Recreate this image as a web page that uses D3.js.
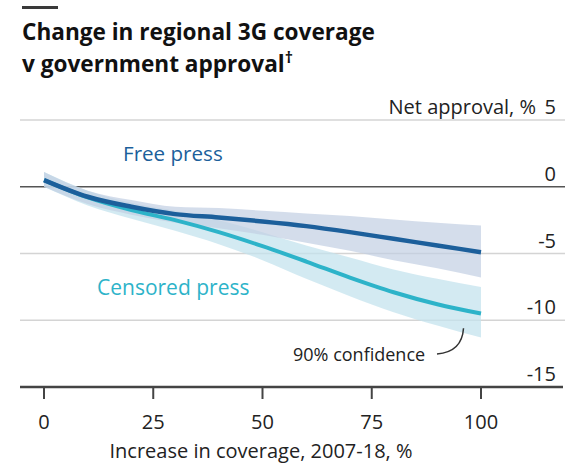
<!DOCTYPE html>
<html>
<head>
<meta charset="utf-8">
<script src="https://cdn.jsdelivr.net/npm/d3@7"></script>
<style>
  body { margin: 0; background: #fff; }
  text { font-family: "Open Sans", sans-serif; }
</style>
</head>
<body>
<div id="chart"></div>
<script>
// coverage increase, %
var coverage = [0, 10, 20, 30, 40, 50, 60, 70, 80, 90, 100];

// net approval, %
var freePress = [0.5, -0.75, -1.5, -2.05, -2.3, -2.6, -2.95, -3.4, -3.9, -4.4, -4.9];
var freeUpper = [1.1, -0.3, -1.0, -1.5, -1.6, -1.8, -2.0, -2.2, -2.45, -2.7, -2.9];
var freeLower = [0.0, -1.3, -2.1, -2.7, -3.1, -3.6, -4.2, -4.8, -5.5, -6.1, -6.8];

var censored = [0.5, -0.8, -1.75, -2.5, -3.4, -4.45, -5.6, -6.8, -7.9, -8.8, -9.5];
var censUpper = [1.1, -0.3, -1.2, -1.8, -2.5, -3.4, -4.4, -5.3, -6.2, -6.9, -7.5];
var censLower = [0.0, -1.4, -2.4, -3.3, -4.3, -5.5, -6.9, -8.2, -9.4, -10.4, -11.3];

var xTicks = [0, 25, 50, 75, 100];
var yTicks = [5, 0, -5, -10, -15];

var svg = d3.select("#chart")
    .append("svg")
    .attr("width", 578)
    .attr("height", 464);

var x = d3.scaleLinear().domain([0, 100]).range([44, 481]),
    y = d3.scaleLinear().domain([-15, 5]).range([387, 120]);

// title
svg.append("rect")
    .attr("x", 22).attr("y", 6)
    .attr("width", 36).attr("height", 3)
    .attr("fill", "#3a3a3a");

var title = svg.append("text")
    .attr("x", 22)
    .attr("y", 40)
    .style("font-weight", "bold")
    .style("font-size", "22.6px")
    .attr("fill", "#111");
title.append("tspan").text("Change in regional 3G coverage");
title.append("tspan").attr("x", 22).attr("dy", 32).text("v government approval");
title.append("tspan").attr("dy", -9).style("font-size", "16px").text("\u2020");

// gridlines
svg.append("g")
    .selectAll("line")
    .data(yTicks.filter(function (d) { return d !== -15; }))
    .enter().append("line")
    .attr("x1", 20).attr("x2", 565)
    .attr("y1", function (d) { return y(d); })
    .attr("y2", function (d) { return y(d); })
    .attr("stroke", function (d) { return d === 0 ? "#555" : "#d4d4d4"; })
    .attr("stroke-width", 1.6);

// y labels
svg.append("g")
    .selectAll("text")
    .data(yTicks)
    .enter().append("text")
    .attr("x", 556)
    .attr("y", function (d) { return y(d) - 6; })
    .attr("text-anchor", "end")
    .style("font-size", "20px")
    .attr("fill", "#222")
    .text(function (d) { return d; });

svg.append("text")
    .attr("x", 536)
    .attr("y", y(5) - 6)
    .attr("text-anchor", "end")
    .style("font-size", "20px")
    .attr("fill", "#222")
    .text("Net approval, %");

// confidence bands
function band(up, lo) {
    return d3.area()
        .x(function (d, i) { return x(coverage[i]); })
        .y0(function (d, i) { return y(lo[i]); })
        .y1(function (d, i) { return y(up[i]); })
        .curve(d3.curveMonotoneX)(coverage);
}

svg.append("path")
    .attr("d", band(censUpper, censLower))
    .attr("fill", "#c4e3ee")
    .attr("opacity", 0.75);

svg.append("path")
    .attr("d", band(freeUpper, freeLower))
    .attr("fill", "#c2cfe2")
    .attr("opacity", 0.7);

// lines
var line = d3.line()
    .x(function (d, i) { return x(coverage[i]); })
    .y(function (d) { return y(d); })
    .curve(d3.curveMonotoneX);

svg.append("path")
    .datum(censored)
    .attr("d", line)
    .attr("fill", "none")
    .attr("stroke", "#2db3c9")
    .attr("stroke-width", 4);

svg.append("path")
    .datum(freePress)
    .attr("d", line)
    .attr("fill", "none")
    .attr("stroke", "#1c5f9b")
    .attr("stroke-width", 4.5);

// labels
svg.append("text")
    .attr("x", 123).attr("y", 161)
    .style("font-size", "20.6px")
    .attr("fill", "#1c5f9b")
    .text("Free press");

svg.append("text")
    .attr("x", 97).attr("y", 295)
    .style("font-size", "21px")
    .attr("fill", "#2db3c9")
    .text("Censored press");

svg.append("text")
    .attr("x", 293).attr("y", 361)
    .style("font-size", "18px")
    .attr("fill", "#222")
    .text("90% confidence");

svg.append("path")
    .attr("d", "M" + 437 + "," + 354 + "Q" + 462 + "," + 352 + " " + x(96) + "," + y(-10.6))
    .attr("fill", "none")
    .attr("stroke", "#333")
    .attr("stroke-width", 1.5);

// x axis
var xAxis = svg.append("g")
    .attr("transform", "translate(0," + y(-15) + ")");

xAxis.append("line")
    .attr("x1", 20).attr("x2", 563)
    .attr("stroke", "#444")
    .attr("stroke-width", 2.5);

xAxis.selectAll(".tick")
    .data(xTicks)
    .enter().append("line")
    .attr("x1", function (d) { return x(d); })
    .attr("x2", function (d) { return x(d); })
    .attr("y1", 0).attr("y2", 12)
    .attr("stroke", "#444")
    .attr("stroke-width", 2);

xAxis.selectAll("text")
    .data(xTicks)
    .enter().append("text")
    .attr("x", function (d) { return x(d); })
    .attr("y", 42)
    .attr("text-anchor", "middle")
    .style("font-size", "20px")
    .attr("fill", "#222")
    .text(function (d) { return d; });

svg.append("text")
    .attr("x", 261).attr("y", 458)
    .attr("text-anchor", "middle")
    .style("font-size", "20px")
    .attr("fill", "#222")
    .text("Increase in coverage, 2007-18, %");
</script>
</body>
</html>
